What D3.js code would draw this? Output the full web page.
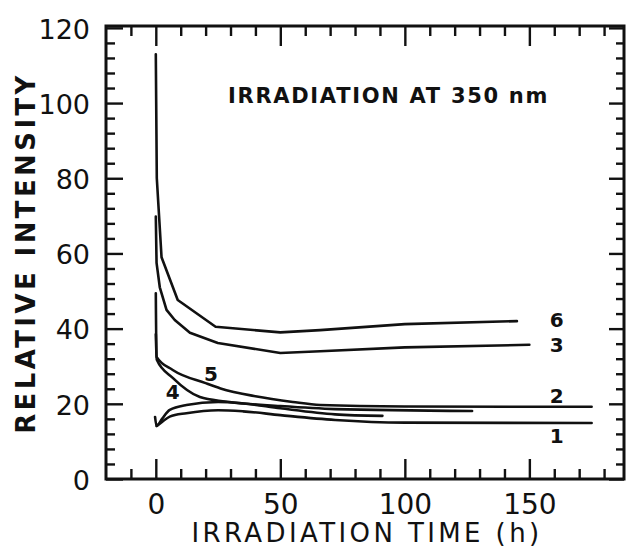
<!DOCTYPE html>
<html>
<head>
<meta charset="utf-8">
<script src="https://cdn.jsdelivr.net/npm/d3@7"></script>
<style>
  html, body { margin: 0; padding: 0; background: #fff; }
  svg { display: block; }
  text { font-family: "DejaVu Sans", sans-serif; fill: #111; }
</style>
</head>
<body>
<svg id="chart" width="630" height="550"></svg>
<script>
// Relative emission intensity vs. irradiation time (h), six samples.
const xMajorTicks = [0, 50, 100, 150];
const yMajorTicks = [0, 20, 40, 60, 80, 100, 120];

const curve6 = [[0, 113], [0.4, 80], [2.3, 59], [8.8, 47.6], [24, 40.5], [50, 39.0], [66, 39.6], [100, 41.2], [145, 42.0]];
const curve3 = [[0, 69.8], [0.3, 57.5], [1.6, 51], [4.3, 45], [7.6, 42.3], [13.7, 38.9], [24.9, 36.2], [50, 33.5], [66, 34.0], [100, 35.0], [150, 35.7]];
const curve2 = [[0, 49.4], [0.3, 32.5], [6.8, 29.0], [20, 25.5], [26, 24.1], [40, 22.0], [55, 20.5], [66, 19.7], [100, 19.3], [175, 19.2]];
const curve5 = [[0, 38.5], [0.4, 31.7], [6.8, 26.9], [17.7, 21.8], [28, 20.6], [50, 19.4], [72, 18.6], [127, 18.1]];
const curve4 = [[-0.3, 16.5], [0.3, 14.1], [2.5, 16.0], [5.6, 18.4], [12.3, 19.7], [25, 20.5], [35, 20.1], [50, 18.8], [72, 17.2], [91, 16.8]];
const curve1 = [[0.3, 14.1], [2.5, 15.2], [5.6, 16.6], [12.3, 17.5], [25, 18.3], [35, 18.0], [50, 17.0], [72, 15.7], [100, 15.0], [175, 14.9]];

const seriesNames = ["6", "3", "2", "5", "4", "1"];
const seriesData = [curve6, curve3, curve2, curve5, curve4, curve1];
// label anchor for each curve number, in data units
const labelAt = [[161, 42.3], [161, 35.6], [161, 22.1], [22.1, 27.9], [6.8, 23.1], [161, 11.4]];

const titleText = "IRRADIATION AT 350 nm";
const xTitle = "IRRADIATION TIME (h)";
const yTitle = "RELATIVE INTENSITY";

const svg = d3.select("#chart");
const x = d3.scaleLinear().domain([-20, 188]).range([106, 624]);
const y = d3.scaleLinear().domain([0, 120.5]).range([479, 26]);

const plotLeft = x.range()[0], plotRight = x.range()[1];
const plotBottom = y.range()[0], plotTop = y.range()[1];

const xMinor = d3.range(-10, 188, 10).filter(v => !xMajorTicks.includes(v));
const yMinor = d3.range(4, 120, 4).filter(v => !yMajorTicks.includes(v));

function styleAxis(g) {
  g.select(".domain").remove();
  g.selectAll(".tick line").attr("stroke", "#111").attr("stroke-width", 2.4);
}

// bottom axis (ticks pointing inward)
svg.append("g").attr("transform", `translate(0,${plotBottom})`)
  .call(d3.axisBottom(x).tickValues(xMinor).tickSize(-10).tickFormat(""))
  .call(styleAxis);
const gxb = svg.append("g").attr("transform", `translate(0,${plotBottom})`)
  .call(d3.axisBottom(x).tickValues(xMajorTicks).tickSize(-20).tickPadding(15).tickFormat(d3.format("d")))
  .call(styleAxis);
gxb.selectAll("text").attr("font-size", 28).attr("font-family", "DejaVu Sans").attr("fill", "#111");

// top axis
svg.append("g").attr("transform", `translate(0,${plotTop})`)
  .call(d3.axisTop(x).tickValues(xMinor).tickSize(-10).tickFormat(""))
  .call(styleAxis);
svg.append("g").attr("transform", `translate(0,${plotTop})`)
  .call(d3.axisTop(x).tickValues(xMajorTicks).tickSize(-20).tickFormat(""))
  .call(styleAxis);

// left axis
svg.append("g").attr("transform", `translate(${plotLeft},0)`)
  .call(d3.axisLeft(y).tickValues(yMinor).tickSize(-9).tickFormat(""))
  .call(styleAxis);
const gyl = svg.append("g").attr("transform", `translate(${plotLeft},0)`)
  .call(d3.axisLeft(y).tickValues(yMajorTicks).tickSize(-17).tickPadding(16).tickFormat(d3.format("d")))
  .call(styleAxis);
gyl.selectAll("text").attr("font-size", 27).attr("font-family", "DejaVu Sans").attr("fill", "#111").attr("dy", "0.38em");

// right axis
svg.append("g").attr("transform", `translate(${plotRight},0)`)
  .call(d3.axisRight(y).tickValues(yMinor).tickSize(-8).tickFormat(""))
  .call(styleAxis);
svg.append("g").attr("transform", `translate(${plotRight},0)`)
  .call(d3.axisRight(y).tickValues(yMajorTicks).tickSize(-15).tickFormat(""))
  .call(styleAxis);

// plot frame
svg.append("rect")
  .attr("x", plotLeft).attr("y", plotTop)
  .attr("width", plotRight - plotLeft).attr("height", plotBottom - plotTop)
  .attr("fill", "none").attr("stroke", "#111").attr("stroke-width", 3);

// curves: the two upper ones are drawn as straight segments, the lower ones smoothed
const straight = d3.line().x(d => x(d[0])).y(d => y(d[1])).curve(d3.curveLinear);
const smooth = d3.line().x(d => x(d[0])).y(d => y(d[1])).curve(d3.curveMonotoneX);
svg.append("g").selectAll("path")
  .data(seriesData)
  .join("path")
  .attr("d", (d, i) => (seriesNames[i] === "6" || seriesNames[i] === "3") ? straight(d) : smooth(d))
  .attr("fill", "none")
  .attr("stroke", "#111")
  .attr("stroke-width", 2.6)
  .attr("stroke-linejoin", "round")
  .attr("stroke-linecap", "round");

// curve numbers
svg.append("g").selectAll("text")
  .data(seriesNames)
  .join("text")
  .attr("x", (d, i) => x(labelAt[i][0]))
  .attr("y", (d, i) => y(labelAt[i][1]))
  .attr("dy", "0.36em")
  .attr("text-anchor", "middle")
  .attr("font-size", 20)
  .attr("font-weight", "bold")
  .text(d => d);

// in-plot title
svg.append("text")
  .attr("x", 228).attr("y", 103)
  .attr("font-size", 21)
  .attr("font-weight", "bold")
  .attr("letter-spacing", 1.7)
  .text(titleText);

// axis titles
svg.append("text")
  .attr("x", 367).attr("y", 542)
  .attr("text-anchor", "middle")
  .attr("font-size", 26)
  .attr("letter-spacing", 3.4)
  .text(xTitle);

svg.append("text")
  .attr("transform", `translate(35, 253) rotate(-90)`)
  .attr("text-anchor", "middle")
  .attr("font-size", 26)
  .attr("font-weight", "bold")
  .attr("letter-spacing", 3.4)
  .text(yTitle);
</script>
</body>
</html>
